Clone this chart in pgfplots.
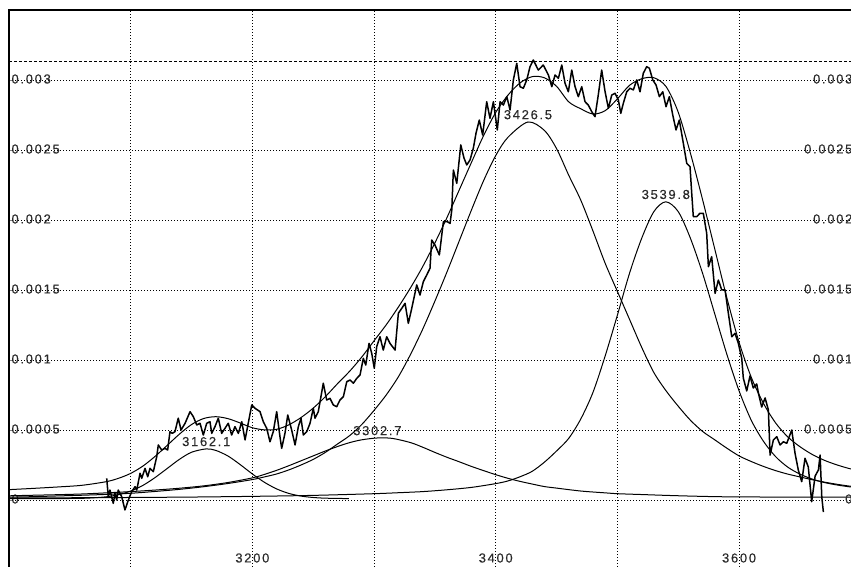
\documentclass[border=0pt]{standalone}
\usepackage{fontspec}
\setmainfont{Liberation Sans}
\newfontfamily\labelfont[LetterSpace=13, FakeBold=0.3]{Liberation Sans}
\usepackage{pgfplots}
\pgfplotsset{compat=1.18}
\definecolor{labelgray}{HTML}{2A2A2A}

\begin{document}
\begin{tikzpicture}
\pgfplotsset{
  frame/.style={
    scale only axis, width=863.9pt, height=560pt,
    xmin=3000, xmax=3710, ymin=-0.0005, ymax=0.0035,
    scaled x ticks=false, scaled y ticks=false,
    tick label style={font=\labelfont\fontsize{13pt}{13pt}\selectfont, text=labelgray},
  },
}
\begin{axis}[
  frame,
  axis line style={black, line width=1.1pt},
  xtick={3100,3200,3300,3400,3500,3600,3700},
  xticklabels={,3200,,3400,,3600,},
  ytick={0,0.0005,0.001,0.0015,0.002,0.0025,0.003},
  yticklabels={0,0.0005,0.001,0.0015,0.002,0.0025,0.003},
  grid=major,
  grid style={black, line width=0.9pt, dash pattern=on 1pt off 2pt},
  tick align=inside, major tick length=3pt,
  xtick style={draw=none},
  ytick pos=left, xtick pos=bottom,
  yticklabel style={anchor=west, xshift=-1pt, yshift=1pt},
  xticklabel style={anchor=center, yshift=12pt},
  every axis plot/.append style={black, line width=1pt, line join=round},
]
% reference level
\addplot[line width=0.9pt, dash pattern=on 3pt off 2pt] coordinates {(3000,3.136e-3) (3710,3.136e-3)};

% fitted band at 3162.1
\addplot[smooth] coordinates {
(3000,0.010e-3) (3020,0.010e-3) (3040,0.010e-3) (3060,0.012e-3) (3070,0.016e-3)
(3080,0.023e-3) (3090,0.038e-3) (3100,0.064e-3) (3110,0.104e-3) (3120,0.160e-3)
(3130,0.225e-3) (3140,0.290e-3) (3150,0.341e-3) (3162.1,0.365e-3) (3170,0.354e-3)
(3180,0.314e-3) (3190,0.253e-3) (3200,0.186e-3) (3210,0.126e-3) (3220,0.079e-3)
(3230,0.047e-3) (3240,0.028e-3) (3250,0.018e-3) (3260,0.013e-3) (3279.4,0.010e-3)};

% fitted band at 3302.7
\addplot[smooth] coordinates {
(3000,0.030e-3) (3020,0.034e-3) (3040,0.038e-3) (3060,0.043e-3) (3080,0.051e-3)
(3100,0.060e-3) (3120,0.071e-3) (3140,0.084e-3) (3160,0.101e-3) (3180,0.125e-3)
(3200,0.158e-3) (3210,0.183e-3) (3220,0.212e-3) (3230,0.245e-3) (3240,0.280e-3)
(3250,0.315e-3) (3260,0.350e-3) (3270,0.382e-3) (3280,0.410e-3) (3290,0.430e-3)
(3302.7,0.443e-3) (3315,0.440e-3) (3330,0.410e-3) (3340,0.377e-3) (3350,0.340e-3)
(3360,0.305e-3) (3370,0.273e-3) (3380,0.240e-3) (3390,0.210e-3) (3400,0.181e-3)
(3410,0.155e-3) (3420,0.133e-3) (3430,0.114e-3) (3440,0.096e-3) (3450,0.085e-3)
(3460,0.074e-3) (3470,0.064e-3) (3480,0.057e-3) (3490,0.051e-3) (3500,0.045e-3)
(3520,0.039e-3) (3540,0.033e-3) (3560,0.028e-3) (3580,0.024e-3) (3600,0.022e-3)
(3640,0.021e-3) (3700,0.021e-3)};

% fitted band at 3426.5
\addplot[smooth] coordinates {
(3000,0.020e-3) (3020,0.024e-3) (3040,0.029e-3) (3060,0.034e-3) (3080,0.040e-3)
(3100,0.048e-3) (3120,0.061e-3) (3140,0.076e-3) (3160,0.095e-3) (3180,0.118e-3)
(3200,0.146e-3) (3210,0.165e-3) (3220,0.186e-3) (3230,0.215e-3) (3240,0.250e-3)
(3250,0.290e-3) (3260,0.340e-3) (3270,0.400e-3) (3280,0.460e-3) (3290,0.540e-3)
(3300,0.640e-3) (3310,0.750e-3) (3320,0.880e-3) (3330,1.040e-3) (3340,1.220e-3)
(3350,1.420e-3) (3360,1.630e-3) (3370,1.850e-3) (3380,2.070e-3) (3390,2.280e-3)
(3400,2.460e-3) (3410,2.590e-3) (3426.5,2.700e-3) (3440,2.640e-3) (3450,2.510e-3)
(3460,2.320e-3) (3470,2.140e-3) (3480,1.920e-3) (3490,1.690e-3) (3500,1.490e-3)
(3510,1.290e-3) (3520,1.090e-3) (3530,0.910e-3) (3540,0.780e-3) (3550,0.670e-3)
(3560,0.570e-3) (3570,0.490e-3) (3580,0.430e-3) (3590,0.370e-3) (3600,0.315e-3)
(3610,0.275e-3) (3620,0.240e-3) (3630,0.210e-3) (3640,0.185e-3) (3650,0.165e-3)
(3660,0.145e-3) (3670,0.128e-3) (3680,0.113e-3) (3690,0.100e-3) (3700,0.090e-3)};

% fitted band at 3539.8
\addplot[smooth] coordinates {
(3000,0.014e-3) (3050,0.016e-3) (3100,0.018e-3) (3150,0.021e-3) (3200,0.026e-3)
(3250,0.033e-3) (3300,0.045e-3) (3320,0.052e-3) (3340,0.060e-3) (3360,0.073e-3)
(3380,0.090e-3) (3400,0.117e-3) (3410,0.136e-3) (3420,0.166e-3) (3430,0.205e-3)
(3440,0.270e-3) (3450,0.350e-3) (3460,0.440e-3) (3470,0.580e-3) (3480,0.770e-3)
(3490,1.030e-3) (3500,1.320e-3) (3510,1.620e-3) (3520,1.870e-3) (3530,2.060e-3)
(3539.8,2.130e-3) (3550,2.060e-3) (3560,1.870e-3) (3570,1.620e-3) (3580,1.330e-3)
(3590,1.040e-3) (3600,0.780e-3) (3610,0.570e-3) (3620,0.420e-3) (3630,0.310e-3)
(3640,0.235e-3) (3650,0.185e-3) (3660,0.150e-3) (3670,0.125e-3) (3680,0.108e-3)
(3690,0.095e-3) (3700,0.085e-3)};

% sum of the fitted bands
\addplot[smooth] coordinates {
(3000,0.074e-3) (3020,0.083e-3) (3040,0.093e-3) (3060,0.105e-3) (3080,0.131e-3)
(3090,0.155e-3) (3100,0.190e-3) (3110,0.242e-3) (3120,0.311e-3) (3130,0.390e-3)
(3140,0.470e-3) (3150,0.539e-3) (3160,0.582e-3) (3170,0.595e-3) (3180,0.581e-3)
(3190,0.550e-3) (3200,0.516e-3) (3210,0.501e-3) (3220,0.505e-3) (3230,0.537e-3)
(3240,0.589e-3) (3250,0.656e-3) (3260,0.738e-3) (3270,0.831e-3) (3280,0.920e-3)
(3290,1.022e-3) (3300,1.137e-3) (3310,1.251e-3) (3320,1.378e-3) (3330,1.516e-3)
(3340,1.667e-3) (3350,1.836e-3) (3360,2.018e-3) (3370,2.214e-3) (3380,2.410e-3)
(3390,2.602e-3) (3400,2.768e-3) (3410,2.891e-3) (3420,2.979e-3) (3430,3.024e-3)
(3440,3.016e-3) (3450,2.955e-3) (3460,2.844e-3) (3470,2.794e-3) (3480,2.757e-3)
(3490,2.781e-3) (3500,2.865e-3) (3510,2.962e-3) (3520,3.009e-3) (3530,3.016e-3)
(3540,2.953e-3) (3550,2.770e-3) (3560,2.478e-3) (3570,2.146e-3) (3580,1.794e-3)
(3590,1.443e-3) (3600,1.127e-3) (3610,0.877e-3) (3620,0.691e-3) (3630,0.551e-3)
(3640,0.451e-3) (3650,0.381e-3) (3660,0.326e-3) (3670,0.284e-3) (3680,0.252e-3)
(3690,0.226e-3) (3700,0.206e-3)};

% measured spectrum
\addplot[line width=1.5pt] coordinates {
(3080.3,0.155e-3) (3081.6,0.024e-3) (3083.0,0.071e-3) (3085.7,-0.024e-3) (3087.1,0.048e-3)
(3088.5,0.000e-3) (3089.8,0.071e-3) (3092.6,0.024e-3) (3095.3,-0.071e-3) (3098.1,0.000e-3)
(3100.8,0.059e-3) (3103.6,0.095e-3) (3105.0,0.071e-3) (3107.7,0.191e-3) (3109.1,0.155e-3)
(3111.8,0.226e-3) (3114.0,0.166e-3) (3115.9,0.226e-3) (3118.6,0.202e-3) (3121.4,0.309e-3)
(3122.7,0.393e-3) (3125.5,0.357e-3) (3128.2,0.369e-3) (3130.4,0.357e-3) (3132.3,0.488e-3)
(3134.2,0.476e-3) (3136.4,0.488e-3) (3139.1,0.584e-3) (3141.4,0.500e-3) (3144.7,0.548e-3)
(3148.8,0.631e-3) (3151.5,0.595e-3) (3154.3,0.536e-3) (3157.0,0.548e-3) (3159.7,0.464e-3)
(3162.5,0.548e-3) (3165.2,0.559e-3) (3166.6,0.476e-3) (3169.3,0.524e-3) (3172.0,0.584e-3)
(3174.8,0.476e-3) (3177.5,0.512e-3) (3180.2,0.548e-3) (3183.0,0.464e-3) (3185.7,0.524e-3)
(3188.5,0.476e-3) (3191.3,0.559e-3) (3194.0,0.429e-3) (3199.5,0.679e-3) (3202.2,0.655e-3)
(3206.3,0.631e-3) (3209.0,0.559e-3) (3211.8,0.512e-3) (3214.5,0.416e-3) (3217.2,0.488e-3)
(3220.0,0.631e-3) (3222.7,0.452e-3) (3224.1,0.369e-3) (3226.8,0.476e-3) (3229.1,0.607e-3)
(3232.3,0.500e-3) (3235.1,0.393e-3) (3237.8,0.524e-3) (3240.0,0.584e-3) (3241.9,0.464e-3)
(3244.7,0.488e-3) (3247.4,0.548e-3) (3250.1,0.655e-3) (3251.5,0.584e-3) (3254.2,0.631e-3)
(3258.3,0.834e-3) (3261.1,0.714e-3) (3263.8,0.726e-3) (3266.5,0.679e-3) (3269.3,0.666e-3)
(3272.0,0.714e-3) (3274.8,0.738e-3) (3277.6,0.845e-3) (3280.3,0.857e-3) (3283.0,0.834e-3)
(3285.8,0.869e-3) (3288.5,0.893e-3) (3291.2,1.012e-3) (3293.2,0.964e-3) (3295.9,1.119e-3)
(3298.1,1.048e-3) (3300.2,0.941e-3) (3302.2,1.095e-3) (3304.9,1.166e-3) (3307.6,1.071e-3)
(3310.4,1.166e-3) (3313.1,1.119e-3) (3317.3,1.071e-3) (3320.0,1.334e-3) (3322.8,1.369e-3)
(3325.5,1.405e-3) (3328.2,1.262e-3) (3331.0,1.369e-3) (3335.1,1.536e-3) (3337.8,1.464e-3)
(3340.5,1.559e-3) (3343.3,1.607e-3) (3346.0,1.655e-3) (3347.4,1.857e-3) (3350.1,1.821e-3)
(3353.7,1.750e-3) (3357.0,1.988e-3) (3360.2,1.988e-3) (3362.5,1.976e-3) (3363.9,2.071e-3)
(3365.2,2.357e-3) (3368.0,2.262e-3) (3371.3,2.536e-3) (3374.0,2.441e-3) (3376.2,2.393e-3)
(3378.9,2.429e-3) (3381.6,2.512e-3) (3383.8,2.619e-3) (3386.5,2.714e-3) (3389.3,2.607e-3)
(3392.6,2.845e-3) (3395.3,2.726e-3) (3398.1,2.845e-3) (3401.3,2.643e-3) (3403.6,2.845e-3)
(3406.3,2.821e-3) (3409.1,2.881e-3) (3411.8,2.786e-3) (3414.5,3.000e-3) (3417.3,3.119e-3)
(3420.0,2.952e-3) (3422.7,2.941e-3) (3425.5,3.000e-3) (3428.2,3.095e-3) (3430.9,3.143e-3)
(3435.0,3.071e-3) (3439.1,3.107e-3) (3443.3,3.036e-3) (3446.1,2.952e-3) (3448.8,3.036e-3)
(3451.5,3.012e-3) (3454.3,3.107e-3) (3457.0,2.976e-3) (3459.7,2.916e-3) (3462.5,3.071e-3)
(3465.2,2.952e-3) (3467.9,2.881e-3) (3470.7,2.952e-3) (3473.4,2.845e-3) (3476.1,2.821e-3)
(3478.9,2.774e-3) (3481.6,2.738e-3) (3484.3,2.893e-3) (3487.1,3.071e-3) (3489.9,2.916e-3)
(3492.6,2.798e-3) (3495.4,2.893e-3) (3498.1,2.905e-3) (3500.8,2.857e-3) (3502.8,2.762e-3)
(3504.9,2.834e-3) (3507.7,2.916e-3) (3510.4,2.941e-3) (3513.1,2.929e-3) (3515.9,3.000e-3)
(3518.6,2.916e-3) (3521.3,3.048e-3) (3524.1,3.095e-3) (3526.3,3.084e-3) (3529.1,3.000e-3)
(3531.8,2.964e-3) (3534.5,2.881e-3) (3537.3,2.916e-3) (3540.0,2.809e-3) (3542.7,2.881e-3)
(3545.5,2.750e-3) (3548.2,2.643e-3) (3550.9,2.714e-3) (3554.2,2.548e-3) (3557.0,2.405e-3)
(3559.7,2.381e-3) (3561.1,2.191e-3) (3562.4,2.024e-3) (3565.2,2.024e-3) (3567.9,2.048e-3)
(3570.6,2.048e-3) (3573.4,1.905e-3) (3574.8,1.666e-3) (3577.5,1.738e-3) (3580.3,1.476e-3)
(3583.0,1.571e-3) (3585.8,1.500e-3) (3588.5,1.500e-3) (3591.2,1.334e-3) (3594.0,1.166e-3)
(3596.7,1.191e-3) (3599.4,1.119e-3) (3602.2,1.012e-3) (3603.5,0.871e-3) (3606.3,0.779e-3)
(3609.0,0.886e-3) (3611.7,0.800e-3) (3614.5,0.829e-3) (3615.9,0.764e-3) (3618.6,0.664e-3)
(3621.4,0.729e-3) (3624.1,0.643e-3) (3625.5,0.321e-3) (3628.2,0.429e-3) (3631.0,0.452e-3)
(3633.7,0.393e-3) (3636.4,0.416e-3) (3639.2,0.405e-3) (3643.3,0.500e-3) (3646.0,0.334e-3)
(3648.7,0.214e-3) (3651.5,0.131e-3) (3654.2,0.298e-3) (3656.9,0.236e-3) (3659.7,-0.012e-3)
(3662.5,0.171e-3) (3665.2,0.214e-3) (3666.6,0.321e-3) (3668.0,0.021e-3) (3669.3,-0.086e-3)};

% band positions
\begin{scope}[every node/.style={font=\labelfont\fontsize{13pt}{13pt}\selectfont, text=labelgray, anchor=south, inner sep=0pt, yshift=2.5pt}]
\node at (axis cs:3162.1,0.365e-3) {3162.1};
\node at (axis cs:3302.7,0.443e-3) {3302.7};
\node at (axis cs:3426.5,2.700e-3) {3426.5};
\node at (axis cs:3539.8,2.130e-3) {3539.8};
\end{scope}
\end{axis}

% right-hand scale
\begin{axis}[
  frame,
  axis line style={draw=none},
  xtick=\empty,
  ytick={0,0.0005,0.001,0.0015,0.002,0.0025,0.003},
  yticklabels={0,0.0005,0.001,0.0015,0.002,0.0025,0.003},
  ytick pos=right, yticklabel pos=right,
  major tick length=0pt,
  yticklabel style={anchor=east, xshift=-17pt, yshift=1pt},
]
\addplot[draw=none] coordinates {(3000,0) (3700,0)};
\end{axis}

\pgfresetboundingbox
\path[use as bounding box] (-9pt,3pt) rectangle (842pt,570pt);
\end{tikzpicture}
\end{document}
